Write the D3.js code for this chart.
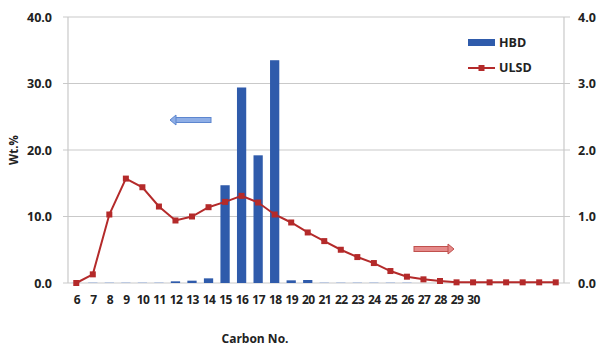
<!DOCTYPE html>
<html><head><meta charset="utf-8">
<script src="https://cdn.jsdelivr.net/npm/d3@7"></script>
<style>body{margin:0;background:#fff}svg{display:block}text{font-family:"Open Sans","Noto Sans",sans-serif;font-weight:700;fill:#222}</style>
</head><body><svg id="c" width="598" height="354"></svg>
<script>
const categories = d3.range(6, 36);
const tickLabels = categories.map(c => c <= 30 ? String(c) : "");
const hbd = [0.05,0.1,0.1,0.1,0.1,0.1,0.25,0.35,0.7,14.7,29.4,19.2,33.5,0.4,0.45,0.1,0.1,0.1,0.1,0.1,0.1,0,0,0,0,0,0,0,0,0];
const ulsd = [0.0,0.13,1.03,1.57,1.44,1.15,0.94,1.0,1.14,1.22,1.31,1.21,1.03,0.91,0.76,0.63,0.5,0.39,0.3,0.18,0.095,0.055,0.03,0.01,0.01,0.01,0.01,0.01,0.01,0.01];
const leftTicks = [0,10,20,30,40];
const rightTicks = [0,1,2,3,4];

const svg = d3.select("#c");
const L = 68, R = 564, T = 17, B = 283;
const x = d3.scaleBand().domain(categories).range([L, R]).paddingInner(0.44).paddingOuter(0.22);
const xp = d3.scalePoint().domain(categories).range([L, R]).padding(0.5);
const yL = d3.scaleLinear().domain([0, 40]).range([B, T]);
const yR = d3.scaleLinear().domain([0, 4]).range([B, T]);

// gridlines
svg.append("g").selectAll("line").data(leftTicks).join("line")
  .attr("x1", L - 5).attr("x2", R + 6).attr("y1", d => yL(d)).attr("y2", d => yL(d))
  .attr("stroke", "#c9c9c9").attr("stroke-width", 1.2);
// axis lines
svg.append("line").attr("x1", L).attr("x2", L).attr("y1", T).attr("y2", B).attr("stroke", "#c9c9c9").attr("stroke-width", 1.2);
svg.append("line").attr("x1", R).attr("x2", R).attr("y1", T).attr("y2", B).attr("stroke", "#c9c9c9").attr("stroke-width", 1.2);

// left axis labels
const gl = svg.append("g").attr("transform", `translate(${L - 6},0)`)
  .call(d3.axisLeft(yL).tickValues(leftTicks).tickFormat(d3.format(".1f")).tickSize(0).tickPadding(10));
gl.select(".domain").remove();
gl.selectAll("text").style("font-size", "12.5px").attr("dy", "0.35em");
const gr = svg.append("g").attr("transform", `translate(${R + 6},0)`)
  .call(d3.axisRight(yR).tickValues(rightTicks).tickFormat(d3.format(".1f")).tickSize(0).tickPadding(8));
gr.select(".domain").remove();
gr.selectAll("text").style("font-size", "12.5px").attr("dy", "0.35em");

// x axis labels
const gx = svg.append("g").attr("transform", `translate(0,${B + 6})`)
  .call(d3.axisBottom(xp).tickFormat((d, i) => tickLabels[i]).tickSize(0).tickPadding(6));
gx.select(".domain").remove();
gx.selectAll("text").style("font-size", "12px").style("letter-spacing", "-0.6px");

// bars
svg.append("g").selectAll("rect").data(categories).join("rect")
  .attr("x", d => x(d)).attr("width", x.bandwidth())
  .attr("y", (d, i) => yL(hbd[i])).attr("height", (d, i) => B - yL(hbd[i]))
  .attr("fill", (d, i) => hbd[i] < 0.2 ? "#a9bde0" : "#2f5bab");

// line
const line = d3.line().x((d, i) => xp(categories[i])).y(d => yR(d));
svg.append("path").datum(ulsd).attr("d", line).attr("fill", "none").attr("stroke", "#b42a2a").attr("stroke-width", 2);
svg.append("g").selectAll("rect").data(ulsd).join("rect")
  .attr("x", (d, i) => xp(categories[i]) - 3).attr("y", d => yR(d) - 3)
  .attr("width", 6).attr("height", 6).attr("fill", "#b42a2a");

// arrows
function arrow(x0, x1, y, fill, stroke, dir) {
  const g = svg.append("g");
  const hx = dir < 0 ? x0 : x1;
  const sx = dir < 0 ? x0 + 5 : x0;
  const ex = dir < 0 ? x1 : x1 - 5;
  g.append("rect").attr("x", sx).attr("y", y - 2.5).attr("width", ex - sx).attr("height", 5)
    .attr("fill", fill).attr("stroke", stroke).attr("stroke-width", 1);
  const tip = hx, base = dir < 0 ? x0 + 6 : x1 - 6;
  g.append("path").attr("d", `M${tip},${y} L${base},${y - 5} L${base},${y + 5} Z`)
    .attr("fill", fill).attr("stroke", stroke).attr("stroke-width", 1);
}
arrow(170, 211, 120, "#8eaee6", "#5d86cf", -1);
arrow(414, 454, 249, "#e58a8a", "#c0504d", 1);

// legend
svg.append("rect").attr("x", 468).attr("y", 39).attr("width", 27).attr("height", 7).attr("fill", "#2f5bab");
svg.append("text").attr("x", 499).attr("y", 43).attr("dy", "0.35em").style("font-size", "12.5px").text("HBD");
svg.append("line").attr("x1", 468).attr("x2", 495).attr("y1", 68).attr("y2", 68).attr("stroke", "#b42a2a").attr("stroke-width", 2);
svg.append("rect").attr("x", 478.5).attr("y", 65).attr("width", 6).attr("height", 6).attr("fill", "#b42a2a");
svg.append("text").attr("x", 499).attr("y", 68).attr("dy", "0.35em").style("font-size", "12.5px").text("ULSD");

// axis titles
svg.append("text").attr("transform", "translate(14,150) rotate(-90)").attr("text-anchor", "middle")
  .attr("dy", "0.35em").style("font-size", "11.5px").text("Wt.%");
svg.append("text").attr("x", 255).attr("y", 339).attr("text-anchor", "middle").attr("dy", "0.35em")
  .style("font-size", "12px").text("Carbon No.");
</script></body></html>
